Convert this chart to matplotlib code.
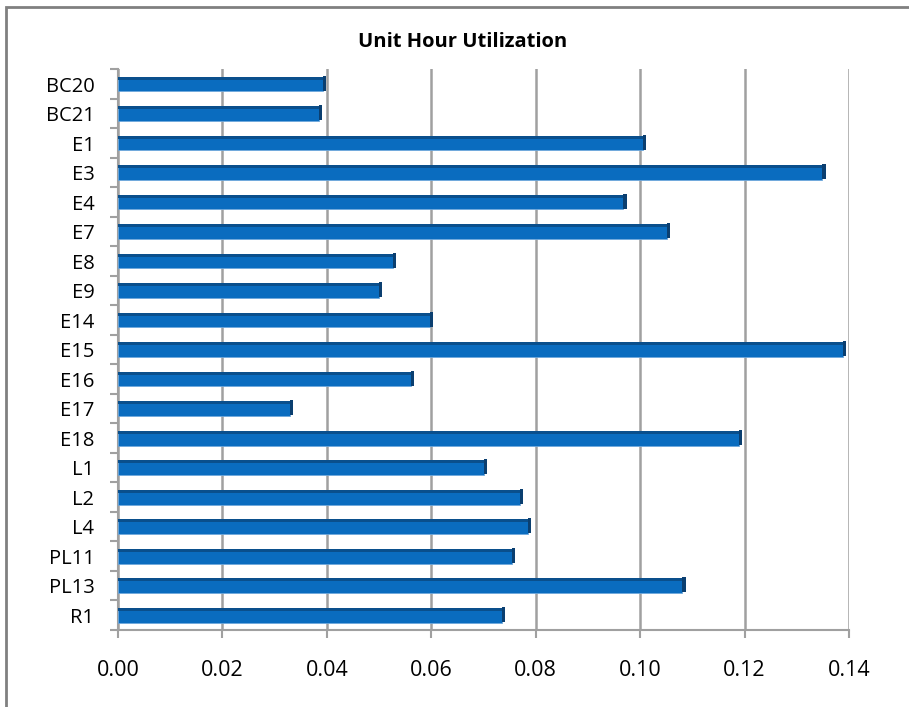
import matplotlib
matplotlib.use("Agg")
import matplotlib.pyplot as plt
import numpy as np
from matplotlib.patches import Rectangle

units = ["BC20", "BC21", "E1", "E3", "E4", "E7", "E8", "E9", "E14", "E15",
         "E16", "E17", "E18", "L1", "L2", "L4", "PL11", "PL13", "R1"]
utilization = [0.0392, 0.0385, 0.1005, 0.1349, 0.0968, 0.1051, 0.0526, 0.0499,
               0.0598, 0.1389, 0.0561, 0.0329, 0.1190, 0.0701, 0.0770, 0.0785,
               0.0755, 0.1081, 0.0735]
x_ticks = [0.00, 0.02, 0.04, 0.06, 0.08, 0.10, 0.12, 0.14]

plt.rcParams["font.family"] = ["Open Sans", "DejaVu Sans"]

fig = plt.figure(figsize=(9.09, 7.07), dpi=100)
ax = fig.add_axes([118 / 909, 0.109, 731 / 909, 0.793])

y = np.arange(len(units))
vals = np.array(utilization)
bar_h = 0.5

# main bar face
ax.barh(y, vals, height=bar_h, color="#0A6CBF", edgecolor="#6FA8DC",
        linewidth=0.6, zorder=3)
# darker top face
ax.barh(y - bar_h / 2 + 0.05, vals, height=0.1, color="#0A4F8C", zorder=4)
# side cap for a 3D look
ax.barh(y - 0.03, np.full_like(vals, 0.0006), left=vals, height=bar_h,
        color="#0B3F70", zorder=4)

ax.set_xlim(0, 0.14)
ax.set_ylim(len(units) - 0.5, -0.5)
ax.set_xticks(x_ticks)
ax.set_xticklabels([f"{v:.2f}" for v in x_ticks], fontsize=15.5)
ax.set_yticks(y)
ax.set_yticklabels(units, fontsize=14.5)
ax.set_yticks(np.arange(len(units) + 1) - 0.5, minor=True)

ax.xaxis.grid(True, color="#A0A0A0", linewidth=1.8, zorder=0)
ax.set_axisbelow(True)
for side in ["top", "right"]:
    ax.spines[side].set_visible(False)
for side in ["left", "bottom"]:
    ax.spines[side].set_color("#A0A0A0")
    ax.spines[side].set_linewidth(1.5)

ax.tick_params(axis="y", which="major", length=0, pad=17)
ax.tick_params(axis="y", which="minor", length=6, color="#A0A0A0", width=1.5)
ax.tick_params(axis="x", length=6, color="#A0A0A0", width=1.5, pad=16)

fig.text(463 / 909, 1 - 42 / 707, "Unit Hour Utilization", ha="center",
         va="center", fontsize=14.5, fontweight="bold")

fig.patches.append(Rectangle((6 / 909, -0.05), 1.2, 1 - 7 / 707 + 0.05,
                             transform=fig.transFigure, fill=False,
                             edgecolor="#808080", linewidth=2))

fig.savefig("out.png", dpi=100)
plt.close(fig)
